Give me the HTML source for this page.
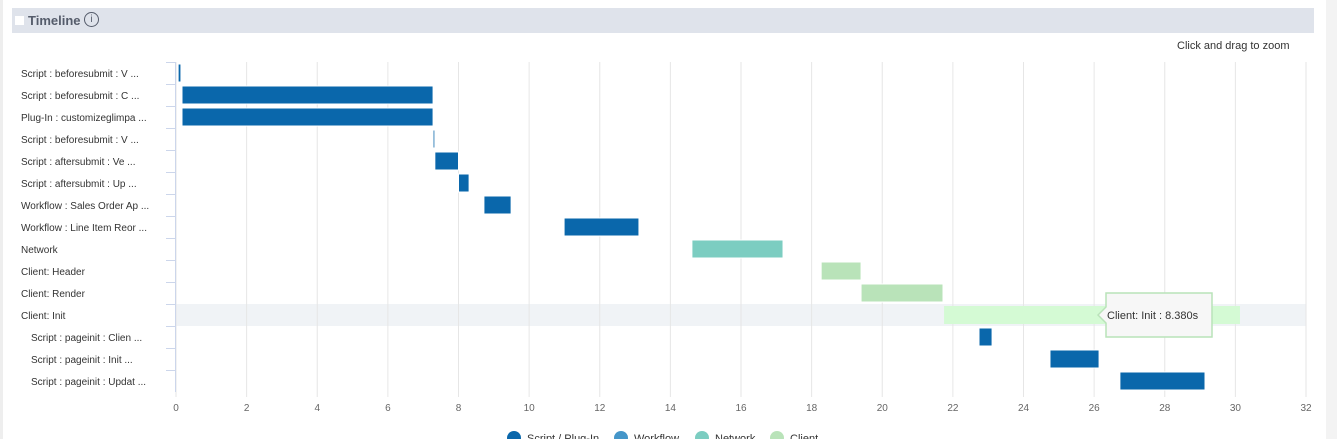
<!DOCTYPE html>
<html><head><meta charset="utf-8"><style>
body{margin:0;width:1337px;height:439px;overflow:hidden;background:#fff;font-family:"Liberation Sans",sans-serif;}
</style></head><body>
<div style="position:absolute;left:0;top:0;width:3px;height:439px;background:#eee"></div>
<div style="position:absolute;left:1326px;top:0;width:11px;height:439px;background:#f3f3f3"></div>
<div style="position:absolute;left:12px;top:8px;width:1302px;height:25px;background:#dfe3eb">
 <div style="position:absolute;left:3px;top:8px;width:9px;height:9px;background:#fff"></div>
 <span style="position:absolute;left:16px;top:5px;font-size:13px;font-weight:bold;color:#555c6b">Timeline</span>
 <span style="position:absolute;left:72px;top:4px;width:13px;height:13px;border:1.3px solid #555c6b;border-radius:50%;font-size:10px;line-height:13px;text-align:center;color:#555c6b">i</span>
</div>
<div style="position:absolute;left:1177px;top:40px;font-size:11px;color:#333">Click and drag to zoom</div>
<svg id="chart" width="1337" height="439" style="position:absolute;left:0;top:0"></svg>
<script>
const categories=["Script : beforesubmit : V ...","Script : beforesubmit : C ...","Plug-In : customizeglimpa ...","Script : beforesubmit : V ...","Script : aftersubmit : Ve ...","Script : aftersubmit : Up ...","Workflow : Sales Order Ap ...","Workflow : Line Item Reor ...","Network","Client: Header","Client: Render","Client: Init","Script : pageinit : Clien ...","Script : pageinit : Init ...","Script : pageinit : Updat ..."];
const indent=[0,0,0,0,0,0,0,0,0,0,0,0,1,1,1];
const starts=[0.06,0.17,0.17,7.28,7.33,8.0,8.72,10.99,14.61,18.27,19.40,21.75,22.74,24.75,26.73];
const ends=[0.14,7.28,7.28,7.33,8.0,8.3,9.49,13.11,17.19,19.40,21.72,30.13,23.11,26.14,29.14];
const kinds=["s","s","s","s","s","s","w","w","n","c","c","c","s","s","s"];
const ticks=[0,2,4,6,8,10,12,14,16,18,20,22,24,26,28,30,32];
const legendLabels=["Script / Plug-In","Workflow","Network","Client"];
const NS="http://www.w3.org/2000/svg";
const svg=document.getElementById('chart');
const X0=176,X1=1306,XMAX=32,TOP=62,ROW=22;
const x=v=>X0+v/XMAX*(X1-X0);
const y=i=>TOP+i*ROW;
const colors={s:"#0a67ab",w:"#0a67ab",n:"#7ccdc1",c:"#b9e3b9"};
function mk(t,a){const e=document.createElementNS(NS,t);for(const k in a)e.setAttribute(k,a[k]);svg.appendChild(e);return e;}
const hl=mk('rect',{x:X0,y:y(11),width:X1-X0,height:ROW,fill:'#f0f3f6'});


ticks.forEach(t=>{
 const g=mk('line',{x1:x(t),x2:x(t),y1:TOP,y2:y(categories.length)+5,stroke:'#e6e6e6'});
 
 
 const l=mk('text',{x:x(t),y:411,'font-size':10,fill:'#666','text-anchor':'middle'});
 l.textContent=t;
 
 
});
const ax=mk('line',{x1:X0-0.5,x2:X0-0.5,y1:TOP,y2:y(categories.length),stroke:'#ccd6eb'});


categories.forEach((c,i)=>{
 const tk=mk('line',{x1:X0-10,x2:X0,y1:y(i)+0.5,y2:y(i)+0.5,stroke:'#ccd6eb'});
 
 
 const t=mk('text',{x:21+indent[i]*10,y:y(i)+15,'font-size':10,fill:'#333'});
 t.textContent=c;
 
 
 const w=Math.max(1.5,x(ends[i])-x(starts[i]));
 const r=mk('rect',{x:x(starts[i]),y:y(i)+2,width:w,height:18,fill:i==11?'#d4fad4':colors[kinds[i]],stroke:i==11?'none':'#fff','stroke-width':1});
 
 
});
// tooltip
const tg=mk('path',{d:`M1098 ${y(11)+11} l8 -8 v-14 h106 v44 h-106 v-14 z`,fill:'#f7f7f7',stroke:'#b9e3b9','stroke-width':1.5});


const tt=mk('text',{x:1107,y:y(11)+15,'font-size':11,fill:'#333'});
tt.textContent="Client: Init : "+(ends[11]-starts[11]).toFixed(3)+"s";


const lx=[514,621,702,777],lc=["#0a67ab","#4596c9","#7ccdc1","#b9e3b9"];
legendLabels.forEach((l,i)=>{
 const c=mk('circle',{cx:lx[i],cy:438,r:7,fill:lc[i]});
 
 
 const t=mk('text',{x:lx[i]+13,y:442,'font-size':11,fill:'#333'});
 t.textContent=l;
 
 
});
</script>
</body></html>
